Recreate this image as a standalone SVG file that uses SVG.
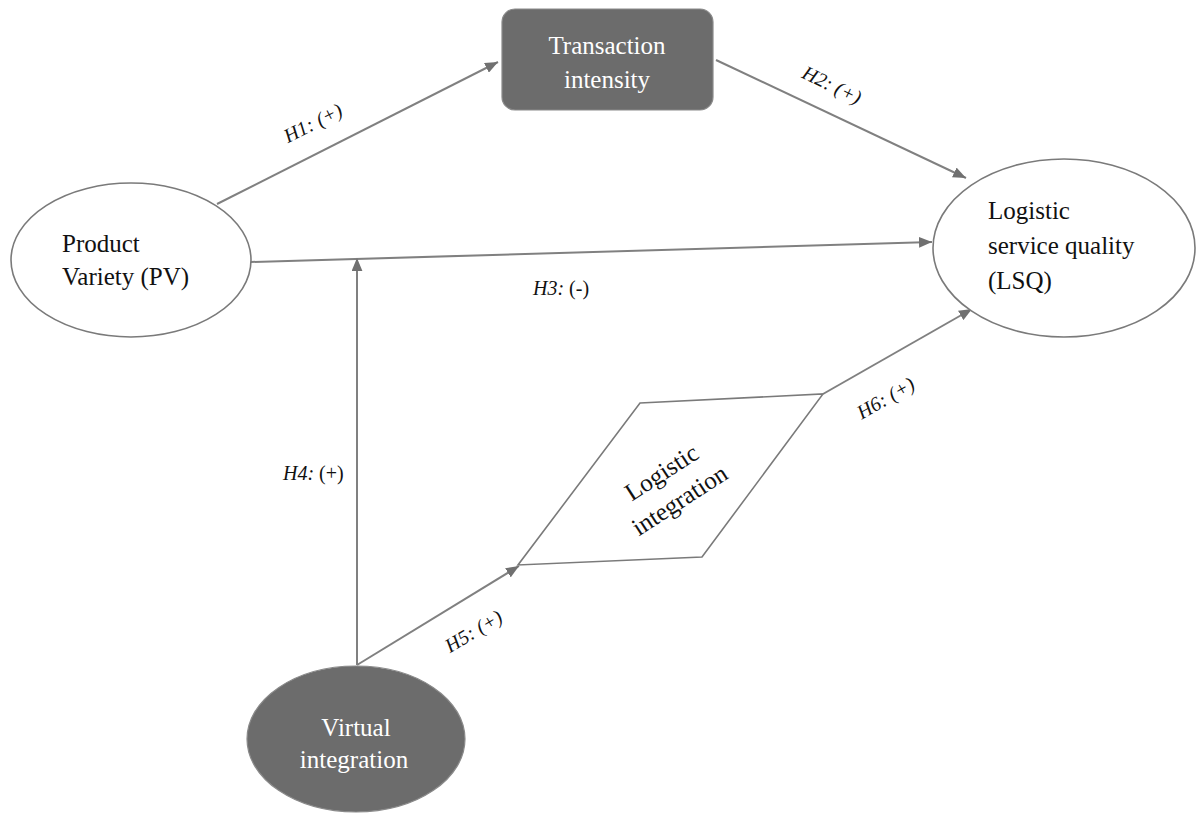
<svg xmlns="http://www.w3.org/2000/svg" width="1198" height="813" viewBox="0 0 1198 813">
<style>
.ln{stroke:#808080;stroke-width:2;fill:none}
.ow{fill:#ffffff;stroke:#7a7a7a;stroke-width:1.6}
.dk{fill:#6c6c6c;stroke:#8a8a8a;stroke-width:1.2}
text{font-family:'Liberation Serif','DejaVu Serif','Times New Roman',Times,serif}
.t{font-size:25px;fill:#111111}
.tw{font-size:25px;fill:#ffffff}
.lb{font-size:20px;fill:#111111}
.i{font-style:italic}
</style>
<defs>
<marker id="ah" viewBox="0 0 12 10" refX="12" refY="5" markerWidth="13" markerHeight="11" markerUnits="userSpaceOnUse" orient="auto">
<path d="M0,0 L12,5 L0,10 z" fill="#707070"/>
</marker>
</defs>
<rect width="1198" height="813" fill="#ffffff"/>
<g id="connectors">
<line class="ln" x1="217" y1="204" x2="498" y2="62" marker-end="url(#ah)"/>
<line class="ln" x1="716" y1="60" x2="966" y2="178" marker-end="url(#ah)"/>
<line class="ln" x1="251" y1="262" x2="932" y2="242" marker-end="url(#ah)"/>
<line class="ln" x1="357" y1="665" x2="357" y2="258" marker-end="url(#ah)"/>
<line class="ln" x1="357" y1="665" x2="519" y2="566" marker-end="url(#ah)"/>
<line class="ln" x1="823" y1="394" x2="972" y2="309" marker-end="url(#ah)"/>
</g>
<g id="labels">
<text class="lb i" transform="translate(316,129) rotate(-27)" text-anchor="middle">H1: (+)</text>
<text class="lb i" transform="translate(829,91) rotate(26)" text-anchor="middle">H2: (+)</text>
<text class="lb" x="533" y="295" font-size="22"><tspan class="i">H3:</tspan> (-)</text>
<text class="lb" x="283" y="480" font-size="22"><tspan class="i">H4:</tspan> (+)</text>
<text class="lb i" transform="translate(477,637) rotate(-31)" text-anchor="middle">H5: (+)</text>
<text class="lb i" transform="translate(889,404) rotate(-30)" text-anchor="middle">H6: (+)</text>
</g>
<g id="transaction-intensity">
<rect class="dk" x="502" y="9" width="211" height="101" rx="13"/>
<text class="tw" x="607" y="54" text-anchor="middle">Transaction</text>
<text class="tw" x="607" y="88" text-anchor="middle">intensity</text>
</g>
<g id="product-variety">
<ellipse class="ow" cx="131" cy="260" rx="120" ry="77"/>
<text class="t" x="62" y="252">Product</text>
<text class="t" x="62" y="285">Variety (PV)</text>
</g>
<g id="lsq">
<ellipse class="ow" cx="1064" cy="248" rx="131" ry="89"/>
<text class="t" x="988" y="219">Logistic</text>
<text class="t" x="988" y="254">service quality</text>
<text class="t" x="988" y="289">(LSQ)</text>
</g>
<g id="logistic-integration">
<polygon class="ow" points="640,403 823,394 702,557 518,565"/>
<g transform="translate(671,487) rotate(-33)">
<text class="t" x="0" y="-9" text-anchor="middle">Logistic</text>
<text class="t" x="0" y="24" text-anchor="middle">integration</text>
</g>
</g>
<g id="virtual-integration">
<ellipse class="dk" cx="356" cy="739" rx="109" ry="73"/>
<text class="tw" x="356" y="736" text-anchor="middle">Virtual</text>
<text class="tw" x="354" y="768" text-anchor="middle">integration</text>
</g>
</svg>
